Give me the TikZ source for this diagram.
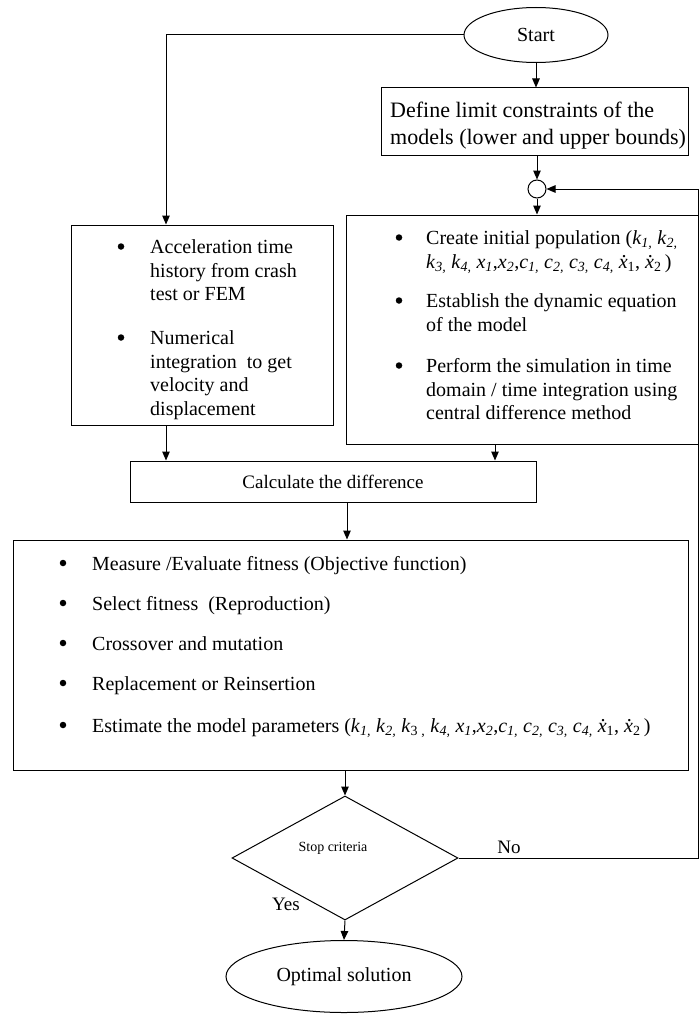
\documentclass[tikz,border=0pt]{standalone}
\usepackage{fontspec}
\setmainfont{Liberation Serif}
\usetikzlibrary{arrows.meta,shapes.geometric}
\newcommand\xdt{\makebox[0pt][l]{\hspace{0.14em}\raisebox{0.52em}{.}}\textit{x}}
\newcommand\ii[1]{\textit{#1}}
\newcommand\sbi[1]{\textsubscript{\textit{#1}}}
\begin{document}
\begin{tikzpicture}[x=1pt,y=-1pt]
\tikzset{
  box/.style={draw, line width=1pt, rectangle, inner sep=0pt},
  txt/.style={inner sep=0pt, anchor=north west, align=left, font=\fontsize{20}{23.5}\selectfont},
  bul/.style={circle, fill=black, inner sep=0pt, minimum size=6.5pt},
  arr/.style={line width=1pt, -{Triangle[length=9pt,width=7.5pt]}},
  lbl/.style={inner sep=0pt, font=\fontsize{19}{22}\selectfont},
}
\useasboundingbox (0,0) rectangle (699,1014);

% shapes
\node[draw, line width=1pt, ellipse, minimum width=144, minimum height=55, inner sep=0pt,
      font=\fontsize{20}{24}\selectfont] (start) at (536,35) {Start};
\node[box, minimum width=307, minimum height=67] (def) at (534.5,121.5) {};
\node[inner sep=0pt, anchor=north west, align=left, font=\fontsize{22}{27}\selectfont] (deftxt) at (390,98)
  {\strut Define limit constraints of the\\models (lower and upper bounds)};
\node[draw, line width=1pt, circle, minimum size=18, inner sep=0pt] (circ) at (537,189) {};
\node[box, minimum width=352, minimum height=229] (rbox) at (522,329.5) {};
\node[box, minimum width=262, minimum height=200] (lbox) at (202,325) {};
\node[box, minimum width=406, minimum height=41, font=\fontsize{19}{22}\selectfont] (calc) at (333,481.5) {Calculate the difference};
\node[box, minimum width=675, minimum height=230] (big) at (350.5,655) {};
\node[draw, line width=1pt, diamond, minimum width=226, minimum height=124, inner sep=0pt] (dia) at (345,858) {};
\node[draw, line width=1pt, ellipse, minimum width=236, minimum height=72, inner sep=0pt,
      font=\fontsize{20}{24}\selectfont] (opt) at (344,976.5) {Optimal solution};

% left box text
\node[bul] (lb1) at (121,246.5) {};
\node[txt] (lt1) at (150,237) {\strut Acceleration time\\history from crash\\test or FEM};
\node[bul] (lb2) at (121,337.5) {};
\node[txt] (lt2) at (150,328) {\strut Numerical\\integration\ \ to get\\velocity and\\displacement};

% right box text
\node[bul] (rb1) at (399,237.5) {};
\node[txt] (rt1) at (426,228) {\strut Create initial population (\ii{k}\sbi{1,} \ii{k}\sbi{2,}\\
  \ii{k}\sbi{3,} \ii{k}\sbi{4,} \ii{x}\sbi{1},\ii{x}\sbi{2},\ii{c}\sbi{1,} \ii{c}\sbi{2,} \ii{c}\sbi{3,} \ii{c}\sbi{4,} \xdt\textsubscript{1}, \xdt\textsubscript{2}\,)};
\node[bul] (rb2) at (399,300.5) {};
\node[txt] (rt2) at (426,291) {\strut Establish the dynamic equation\\of the model};
\node[bul] (rb3) at (399,365.5) {};
\node[txt] (rt3) at (426,356) {\strut Perform the simulation in time\\domain / time integration using\\central difference method};

% big box text
\node[bul] (bb1) at (63,563) {};
\node[txt] (bt1) at (92,553.5) {\strut Measure /Evaluate fitness (Objective function)};
\node[bul] (bb2) at (63,603) {};
\node[txt] (bt2) at (92,593.5) {\strut Select fitness\ \ (Reproduction)};
\node[bul] (bb3) at (63,643) {};
\node[txt] (bt3) at (92,633.5) {\strut Crossover and mutation};
\node[bul] (bb4) at (63,683) {};
\node[txt] (bt4) at (92,673.5) {\strut Replacement or Reinsertion};
\node[bul] (bb5) at (63,725) {};
\node[txt] (bt5) at (92,715.5) {\strut Estimate the model parameters (\ii{k}\sbi{1,} \ii{k}\sbi{2,} \ii{k}\textsubscript{3}\,\textsubscript{,} \ii{k}\sbi{4,} \ii{x}\sbi{1},\ii{x}\sbi{2},\ii{c}\sbi{1,} \ii{c}\sbi{2,} \ii{c}\sbi{3,} \ii{c}\sbi{4,} \xdt\textsubscript{1}, \xdt\textsubscript{2}\,)};

% labels
\node[inner sep=0pt, font=\fontsize{14}{16}\selectfont] (stop) at (333,848) {Stop criteria};
\node[lbl] (no) at (509,847) {No};
\node[lbl] (yes) at (286,904) {Yes};

% connectors
\coordinate (lx) at (166,0);
\coordinate (rx) at (495,0);
\coordinate (cx) at (347,0);
\coordinate (rr) at (698,0);
\draw[arr] (start.south) -- (start.south |- def.north);
\draw[arr] (start.west) -| (lbox.north -| lx);
\draw[arr] (def.south -| circ) -- (circ.north);
\draw[arr] (circ.south) -- (circ.south |- rbox.north);
\draw[arr] (lbox.south -| lx) -- (calc.north -| lx);
\draw[arr] (rbox.south -| rx) -- (calc.north -| rx);
\draw[arr] (calc.south -| cx) -- (big.north -| cx);
\draw[arr] (big.south -| dia) -- (dia.north);
\draw[arr] (dia.south) -- (opt.north);
\draw[arr] (dia.east) -- (dia.east -| rr) |- (circ.east);
\end{tikzpicture}
\end{document}
